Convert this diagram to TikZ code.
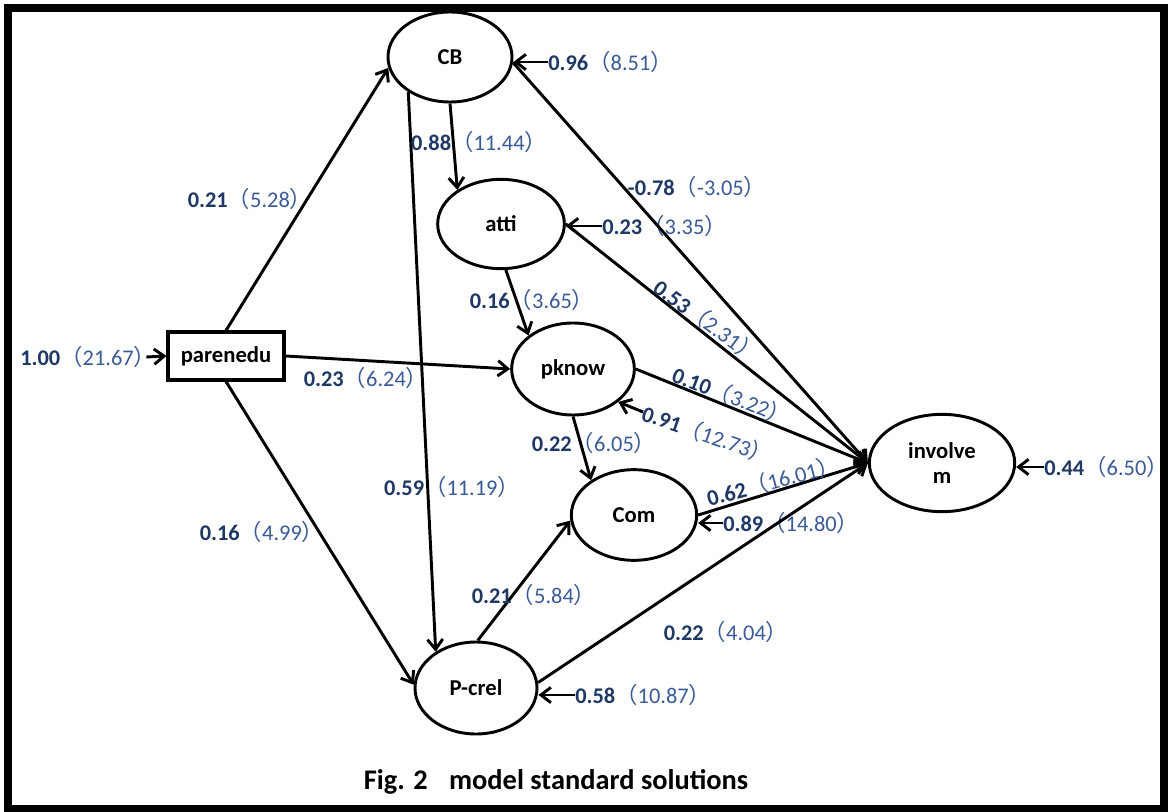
\documentclass[tikz,border=0pt]{standalone}
\usepackage{fontspec}
\setmainfont{Carlito}
\newfontfamily\cjkfont{Noto Sans CJK SC}
\usetikzlibrary{arrows.meta,shapes.geometric}
\definecolor{numblue}{HTML}{1F3864}
\definecolor{parblue}{HTML}{3A5A98}
\newcommand\pathlab[2]{{\bfseries\color{numblue}#1}{\color{parblue}{\cjkfont （}#2{\cjkfont ）}\kern-0.45em}}
\begin{document}
\begin{tikzpicture}[x=0.75pt,y=-0.75pt,
  lat/.style={ellipse,draw,line width=2.2pt,inner sep=0pt,font=\bfseries\fontsize{17}{21}\selectfont},
  obs/.style={rectangle,draw,line width=2.3pt,inner sep=0pt,minimum width=87pt,minimum height=36pt,font=\bfseries\fontsize{17}{21}\selectfont},
  arr/.style={-{Straight Barb[length=7.5pt,width=11.5pt]},line width=2.2pt},
  lab/.style={inner sep=0pt,font=\fontsize{16.8}{19}\selectfont},
]
\useasboundingbox (0,0) rectangle (1169,812);
\fill[white] (0,0) rectangle (1169,812);
\draw[line width=6pt] (7.5,8) rectangle (1164,809);

% nodes
\node[lat,minimum width=93pt,minimum height=67.5pt] (CB) at (450,57) {CB};
\node[lat,minimum width=95pt,minimum height=67pt] (atti) at (501,224) {atti};
\node[lat,minimum width=92pt,minimum height=69pt] (pknow) at (573,369) {pknow};
\node[lat,minimum width=94pt,minimum height=68pt] (Com) at (634,515) {Com};
\node[lat,minimum width=109pt,minimum height=73pt,align=center] (inv) at (942,463) {involve\\[-2pt]m};
\node[lat,minimum width=91.5pt,minimum height=69pt] (pc) at (476,688) {P-crel};
\node[obs] (par) at (226,356) {parenedu};

% residual arrows
\node[lab,anchor=west] (r0) at (20,357) {\pathlab{1.00}{21.67}};
\draw[arr] (r0.east) -- (par.west);
\node[lab,anchor=west] (rCB) at (548,62) {\pathlab{0.96}{8.51}};
\draw[arr] (rCB.west) -- (rCB.west -| CB.east);
\node[lab,anchor=west] (ratti) at (602,226) {\pathlab{0.23}{3.35}};
\draw[arr] (ratti.west) -- (ratti.west -| atti.east);
\node[lab,anchor=west] (rCom) at (723,523) {\pathlab{0.89}{14.80}};
\draw[arr] (rCom.west) -- (rCom.west -| Com.east);
\node[lab,anchor=west] (rpc) at (575,695) {\pathlab{0.58}{10.87}};
\draw[arr] (rpc.west) -- (rpc.west -| pc.east);
\node[lab,anchor=west] (rinv) at (1044,467) {\pathlab{0.44}{6.50}};
\draw[arr] (rinv.west) -- (rinv.west -| inv.east);
\node[lab,anchor=west,rotate=-19] (rpk) at (643,412) {\pathlab{0.91}{12.73}};
\draw[arr] (rpk.west) -- (pknow.-36);

% structural paths
\draw[arr] (par.north) -- (CB.190);
\draw[arr] (par.east) -- (pknow.180);
\draw[arr] (par.south) -- (pc.177);
\draw[arr] (CB.south) -- (atti.142);
\draw[arr] (CB.220) -- (pc.138);
\draw[arr] (atti.-84) -- (pknow.143);
\draw[arr] (pknow.-90) -- (Com.141);
\draw[arr] (pc.88) -- (Com.185);
\draw[arr] (CB.-5) -- (inv.west);
\draw[arr] (atti.east) -- (inv.west);
\draw[arr] (pknow.east) -- (inv.west);
\draw[arr] (Com.east) -- (inv.west);
\draw[arr] (pc.5) -- (inv.west);

% path labels
\node[lab] (l1) at (245,199) {\pathlab{0.21}{5.28}};
\node[lab] (l2) at (474,142) {\pathlab{0.88}{11.44}};
\node[lab] (l3) at (692,187) {\pathlab{-0.78}{-3.05}};
\node[lab] (l4) at (527,300) {\pathlab{0.16}{3.65}};
\node[lab,rotate=-36] (l5) at (703,318) {\pathlab{0.53}{2.31}};
\node[lab] (l6) at (361,378) {\pathlab{0.23}{6.24}};
\node[lab,rotate=-21] (l7) at (727,394) {\pathlab{0.10}{3.22}};
\node[lab] (l8) at (589,443) {\pathlab{0.22}{6.05}};
\node[lab] (l9) at (447,487) {\pathlab{0.59}{11.19}};
\node[lab,rotate=15] (l10) at (768,482) {\pathlab{0.62}{16.01}};
\node[lab] (l11) at (257,532) {\pathlab{0.16}{4.99}};
\node[lab] (l12) at (529,595) {\pathlab{0.21}{5.84}};
\node[lab] (l13) at (721,632) {\pathlab{0.22}{4.04}};

% caption
\node[font=\bfseries\fontsize{21.3}{25}\selectfont] (cap) at (556,782) {Fig. 2\hspace{16pt}model standard solutions};
\end{tikzpicture}
\end{document}
